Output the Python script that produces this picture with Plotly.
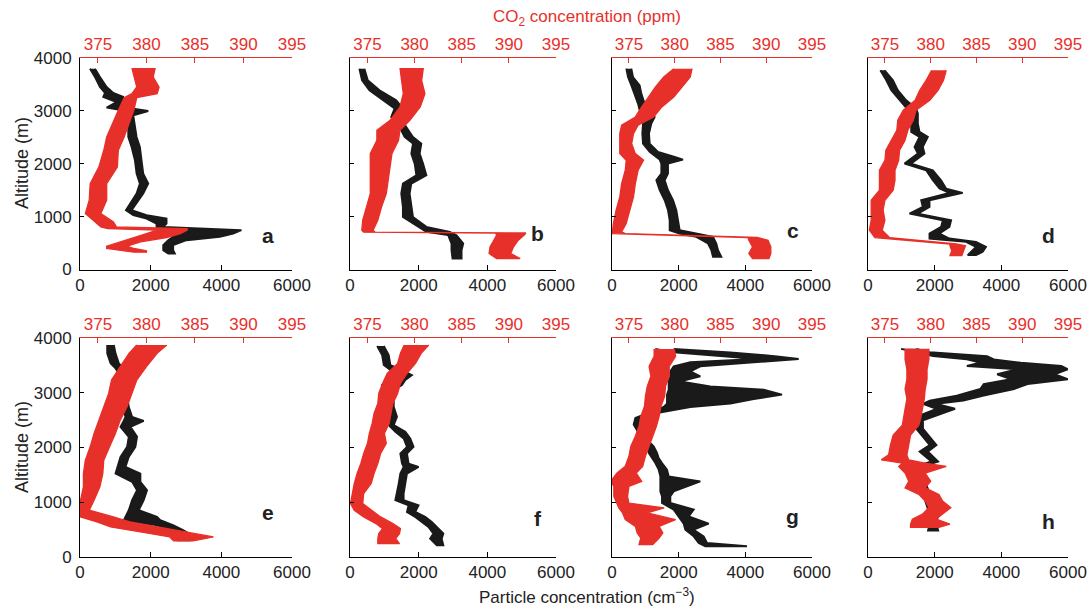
import plotly.graph_objects as go

W, H = 1091, 608
RED = "#E8302A"
BLACK = "#1a1a1a"
FONT = "Liberation Sans, Arial, Helvetica, sans-serif"

# ---------------- data ----------------
# particle concentration (cm^-3): altitude (m), left edge, right edge of the trace
a_part_alt = [3798, 3641, 3452, 3339, 3263, 3168, 3061, 2998, 2917, 2696, 2507, 2318, 2066, 1814, 1625, 1436, 1247, 1121, 1027, 964, 869, 806, 743, 680, 617, 554, 460, 365, 302]
a_part_lo = [283, 424, 565, 706, 659, 1036, 754, 1319, 1366, 1366, 1366, 1460, 1554, 1601, 1695, 1601, 1413, 1300, 1507, 1884, 2166, 2166, 2355, 2637, 2637, 2496, 2355, 2355, 2496]
a_part_hi = [424, 565, 754, 942, 1224, 1224, 1319, 1931, 1507, 1554, 1601, 1695, 1742, 1790, 1931, 1790, 1601, 1460, 1884, 2449, 2449, 2355, 4568, 4333, 3956, 3014, 2637, 2637, 2684]
# CO2 (ppm): altitude, left edge, right edge
a_co2_alt = [3810, 3641, 3452, 3326, 3250, 3011, 2759, 2507, 2255, 1940, 1625, 1310, 1058, 900, 806, 775, 743, 680, 605, 523, 441, 397, 353, 328]
a_co2_lo = [378.5, 378.7, 379.0, 378.5, 377.7, 377.1, 376.5, 375.9, 375.6, 375.1, 374.2, 374.1, 373.7, 374.7, 375.3, 376.0, 381.1, 380.0, 378.7, 377.3, 375.9, 375.9, 378.0, 378.7]
a_co2_hi = [380.9, 380.7, 381.3, 381.1, 379.0, 378.7, 378.2, 377.7, 377.1, 377.0, 375.9, 375.9, 375.3, 376.6, 376.9, 384.2, 384.2, 383.5, 382.1, 379.4, 378.0, 378.7, 380.0, 380.0]

b_part_alt = [3798, 3578, 3389, 3200, 3043, 2885, 2696, 2507, 2381, 2192, 2003, 1783, 1625, 1436, 1184, 995, 806, 712, 649, 491, 365, 208]
b_part_lo = [273, 351, 566, 956, 1298, 1200, 1444, 1590, 1834, 1785, 1883, 1932, 1541, 1493, 1541, 1541, 1980, 2224, 2858, 2956, 2956, 2985]
b_part_hi = [420, 517, 859, 1346, 1541, 1444, 1639, 1834, 2078, 2029, 2127, 2224, 1785, 1737, 1785, 1834, 2224, 2907, 3102, 3298, 3249, 3249]
b_co2_alt = [3811, 3578, 3326, 3074, 2822, 2633, 2444, 2192, 1940, 1688, 1436, 1184, 932, 743, 705, 690, 649, 554, 428, 302, 208]
b_co2_lo = [378.45, 378.6, 378.8, 378.45, 377.4, 376.0, 376.0, 375.3, 375.3, 375.3, 375.3, 374.9, 374.5, 374.4, 374.6, 388.6, 388.7, 388.4, 388.0, 387.9, 388.7]
b_co2_hi = [380.93, 380.75, 381.1, 380.6, 379.5, 378.45, 378.3, 377.6, 377.4, 377.2, 377.0, 376.5, 376.1, 375.6, 375.8, 391.8, 391.6, 391.0, 390.5, 390.2, 391.2]

c_part_alt = [3798, 3641, 3483, 3326, 3137, 3011, 2885, 2759, 2570, 2381, 2224, 2129, 2079, 2003, 1814, 1688, 1499, 1310, 1121, 932, 743, 680, 617, 491, 365, 239]
c_part_lo = [430, 480, 580, 680, 780, 830, 1030, 930, 910, 930, 1130, 1330, 1430, 1480, 1480, 1330, 1430, 1580, 1680, 1730, 1730, 2030, 2530, 2880, 2980, 3030]
c_part_hi = [580, 630, 830, 880, 980, 980, 1280, 1180, 1110, 1130, 1380, 1880, 2130, 1680, 1680, 1580, 1680, 1830, 1930, 1980, 2030, 2530, 3030, 3130, 3180, 3280]
c_co2_alt = [3798, 3641, 3452, 3263, 3074, 2885, 2728, 2570, 2381, 2192, 2066, 1877, 1625, 1373, 1121, 869, 712, 680, 605, 554, 428, 302, 208]
c_co2_lo = [379.9, 378.8, 377.9, 377.1, 376.4, 375.7, 374.2, 374.0, 374.0, 374.0, 374.7, 374.6, 374.2, 374.0, 373.6, 373.3, 373.2, 373.2, 388.0, 388.1, 388.5, 388.1, 388.5]
c_co2_hi = [381.9, 381.7, 380.8, 379.9, 378.6, 377.7, 376.0, 375.5, 375.3, 375.7, 376.6, 376.0, 375.7, 375.5, 375.1, 374.7, 374.2, 374.6, 389.0, 390.2, 390.5, 390.5, 390.3]

d_part_alt = [3767, 3578, 3389, 3200, 3043, 2948, 2759, 2602, 2507, 2318, 2192, 2003, 1877, 1688, 1531, 1449, 1310, 1184, 1058, 932, 806, 680, 586, 523, 428, 334, 271]
d_part_lo = [369, 548, 698, 947, 1147, 1296, 1296, 1296, 1545, 1396, 1496, 1097, 1745, 1944, 2143, 2442, 1595, 1645, 1246, 2243, 2193, 1845, 1845, 2941, 3240, 3091, 2991]
d_part_hi = [499, 748, 897, 1147, 1446, 1496, 1496, 1545, 1795, 1645, 1695, 1296, 1944, 2193, 2343, 2841, 1845, 1845, 1496, 2493, 2443, 2144, 2443, 3240, 3539, 3440, 3240]
d_co2_alt = [3767, 3578, 3389, 3200, 3011, 2822, 2633, 2444, 2255, 2066, 1877, 1688, 1499, 1310, 1121, 932, 743, 604, 482, 450, 355, 261]
d_co2_lo = [380.1, 379.5, 378.8, 378.3, 377.0, 376.4, 376.3, 375.7, 375.1, 375.0, 374.4, 374.4, 374.4, 373.5, 373.5, 373.5, 373.3, 373.9, 382.1, 382.1, 382.3, 382.1]
d_co2_hi = [381.7, 381.4, 380.8, 379.9, 378.4, 378.1, 377.5, 377.2, 376.6, 376.5, 376.1, 376.1, 375.9, 375.0, 374.8, 375.0, 374.7, 375.5, 382.8, 383.8, 383.6, 383.4]

e_part_alt = [3872, 3720, 3537, 3445, 3354, 3110, 2744, 2561, 2488, 2378, 2195, 2012, 1829, 1646, 1524, 1372, 1220, 1037, 854, 732, 671, 579, 488, 396, 305]
e_part_lo = [770, 770, 864, 1005, 1099, 1000, 1192, 1286, 1239, 1146, 1380, 1333, 1146, 1052, 1005, 1474, 1615, 1474, 1380, 1286, 1239, 2178, 2554, 2883, 2742]
e_part_hi = [958, 1005, 1099, 1239, 1286, 1300, 1380, 1474, 1803, 1427, 1615, 1568, 1380, 1286, 1709, 1709, 1897, 1803, 1662, 2178, 2272, 2648, 2930, 3164, 3117]
e_co2_alt = [3872, 3720, 3476, 3232, 2988, 2744, 2500, 2256, 2012, 1768, 1524, 1280, 1037, 854, 732, 640, 549, 457, 366, 293]
e_co2_lo = [379.0, 378.2, 377.3, 376.4, 376.1, 375.6, 375.1, 374.6, 374.2, 373.7, 373.5, 373.5, 373.2, 373.2, 373.2, 374.9, 376.3, 379.4, 382.4, 382.8]
e_co2_hi = [382.1, 381.1, 380.0, 379.0, 378.5, 378.0, 377.3, 376.8, 376.2, 375.6, 375.5, 375.2, 374.6, 374.1, 376.6, 378.3, 381.1, 384.1, 386.9, 384.8]

f_part_alt = [3854, 3689, 3506, 3415, 3323, 3232, 3140, 3049, 2866, 2744, 2561, 2409, 2287, 2165, 2012, 1890, 1707, 1646, 1524, 1341, 1159, 1037, 945, 823, 732, 640, 549, 427, 335, 213]
f_part_lo = [791, 935, 984, 1176, 1321, 1128, 935, 1031, 1080, 1128, 1176, 1128, 1321, 1562, 1659, 1466, 1514, 1562, 1466, 1418, 1369, 1321, 1707, 1659, 1900, 2093, 2285, 2430, 2334, 2527]
f_part_hi = [984, 1128, 1176, 1514, 1803, 1610, 1514, 1273, 1273, 1273, 1369, 1273, 1610, 1755, 1851, 1659, 1707, 1996, 1659, 1610, 1562, 1562, 1996, 1900, 2189, 2382, 2527, 2719, 2671, 2719]
f_co2_alt = [3872, 3720, 3537, 3354, 3171, 2988, 2805, 2622, 2439, 2256, 2073, 1890, 1707, 1524, 1341, 1159, 976, 854, 732, 610, 518, 427, 335, 244]
f_co2_lo = [378.9, 378.5, 378.2, 377.1, 376.6, 376.2, 376.1, 375.7, 375.5, 375.2, 375.0, 374.6, 374.3, 373.9, 373.6, 373.4, 373.2, 373.6, 374.6, 375.9, 376.6, 376.2, 376.1, 376.1]
f_co2_hi = [381.5, 380.7, 380.1, 379.2, 378.5, 378.2, 377.7, 377.5, 377.3, 376.8, 377.0, 376.4, 376.1, 375.7, 375.4, 374.6, 374.5, 375.4, 376.4, 377.7, 378.5, 378.4, 378.0, 378.4]

g_part_alt = [3799, 3738, 3665, 3616, 3556, 3483, 3391, 3300, 3208, 3117, 3056, 2965, 2886, 2801, 2740, 2630, 2539, 2417, 2265, 2143, 2021, 1900, 1808, 1717, 1595, 1473, 1382, 1291, 1199, 1108, 986, 865, 743, 609, 499, 377, 256, 195]
g_part_lo = [1300, 1850, 3350, 4350, 2350, 1850, 1750, 1750, 1700, 1700, 1700, 1650, 1650, 1650, 1550, 1050, 700, 650, 800, 850, 1050, 1100, 1200, 1300, 1400, 1450, 1450, 1450, 1450, 1500, 1500, 1850, 2000, 2150, 2200, 2450, 2600, 2800]
g_part_hi = [1850, 3550, 4950, 5600, 4350, 2650, 2350, 2650, 2050, 2950, 4550, 5100, 4250, 3550, 2350, 1350, 950, 900, 1000, 1050, 1250, 1350, 1400, 1500, 1650, 1700, 2650, 2250, 1850, 1750, 1750, 2450, 2300, 2900, 2450, 2750, 2850, 4050]
g_co2_alt = [3799, 3665, 3483, 3300, 3117, 2935, 2752, 2569, 2387, 2204, 2021, 1839, 1656, 1534, 1382, 1291, 1108, 986, 895, 804, 682, 560, 438, 347, 225]
g_co2_lo = [377.75, 377.75, 377.2, 377.4, 377.0, 376.8, 376.7, 376.3, 376.1, 375.7, 375.2, 375.0, 374.6, 373.7, 373.0, 373.35, 373.35, 373.7, 373.9, 374.3, 374.6, 375.7, 375.9, 376.3, 376.1]
g_co2_hi = [379.95, 380.1, 379.4, 379.4, 379.0, 378.9, 378.5, 378.3, 378.0, 377.6, 377.2, 376.8, 376.5, 375.8, 376.4, 375.0, 374.85, 375.0, 378.85, 377.0, 380.1, 378.3, 378.7, 378.3, 377.6]

h_part_alt = [3802, 3741, 3669, 3609, 3549, 3489, 3429, 3338, 3248, 3158, 3068, 2947, 2857, 2797, 2707, 2586, 2496, 2346, 2226, 2045, 1925, 1744, 1654, 1504, 1323, 1143, 962, 782, 602, 481]
h_part_lo = [992, 1447, 1953, 2965, 3369, 2965, 4482, 3875, 4280, 3471, 3369, 2661, 1852, 1649, 2054, 1548, 1447, 1447, 1599, 1852, 1548, 1902, 1447, 1498, 1548, 1649, 1750, 1852, 1852, 1801]
h_part_hi = [1447, 1852, 3572, 3774, 4584, 5798, 6000, 5596, 6000, 4786, 4381, 3471, 2863, 2054, 2611, 2054, 1649, 1649, 1801, 2054, 1801, 2105, 1649, 1700, 1750, 1852, 2003, 2105, 2054, 2105]
h_co2_alt = [3802, 3609, 3429, 3248, 3068, 2887, 2707, 2526, 2406, 2226, 2045, 1865, 1774, 1714, 1654, 1534, 1383, 1263, 1143, 1023, 902, 782, 692, 602, 541]
h_co2_lo = [377.2, 377.2, 377.4, 377.4, 377.2, 377.4, 377.2, 377.0, 376.9, 375.9, 375.6, 375.4, 374.6, 376.9, 376.5, 377.2, 377.6, 377.2, 378.7, 379.4, 379.8, 379.1, 378.0, 377.8, 377.8]
h_co2_hi = [379.8, 379.8, 379.6, 379.6, 379.4, 379.3, 379.1, 378.9, 378.7, 377.8, 377.6, 377.4, 377.6, 379.4, 381.7, 379.4, 380.0, 379.4, 380.9, 381.3, 382.2, 381.3, 380.6, 382.1, 380.9]

panel_letters = ["a", "b", "c", "d", "e", "f", "g", "h"]
part_ticks = [0, 2000, 4000, 6000]
co2_ticks = [375, 380, 385, 390, 395]
alt_ticks = [0, 1000, 2000, 3000, 4000]

panels = [
    (a_part_alt, a_part_lo, a_part_hi, a_co2_alt, a_co2_lo, a_co2_hi),
    (b_part_alt, b_part_lo, b_part_hi, b_co2_alt, b_co2_lo, b_co2_hi),
    (c_part_alt, c_part_lo, c_part_hi, c_co2_alt, c_co2_lo, c_co2_hi),
    (d_part_alt, d_part_lo, d_part_hi, d_co2_alt, d_co2_lo, d_co2_hi),
    (e_part_alt, e_part_lo, e_part_hi, e_co2_alt, e_co2_lo, e_co2_hi),
    (f_part_alt, f_part_lo, f_part_hi, f_co2_alt, f_co2_lo, f_co2_hi),
    (g_part_alt, g_part_lo, g_part_hi, g_co2_alt, g_co2_lo, g_co2_hi),
    (h_part_alt, h_part_lo, h_part_hi, h_co2_alt, h_co2_lo, h_co2_hi),
]

# ---------------- layout geometry (pixels) ----------------
col_px = [(80, 292), (350, 556), (612, 812), (868, 1068)]
row_px = [(58, 269.5), (338, 557)]
letter_px = [(268, 235), (537, 233), (793, 231), (1048, 235),
             (268, 512), (538, 518), (792, 516), (1048, 521)]


def xname(n):
    return "xaxis" if n == 1 else f"xaxis{n}"


def xref(n):
    return "x" if n == 1 else f"x{n}"


def yname(n):
    return "yaxis" if n == 1 else f"yaxis{n}"


def yref(n):
    return "y" if n == 1 else f"y{n}"


fig = go.Figure()
layout = {}
annotations = []

for i, (pa, plo, phi, ca, clo, chi) in enumerate(panels):
    r, c = divmod(i, 4)
    nb, nt, ny = 2 * i + 1, 2 * i + 2, i + 1
    x0, x1 = col_px[c]
    y0, y1 = row_px[r]

    # particle trace (black) on bottom axis
    fig.add_trace(go.Scatter(
        x=list(plo) + list(phi)[::-1], y=list(pa) + list(pa)[::-1],
        mode="lines", fill="toself", fillcolor=BLACK,
        line=dict(color=BLACK, width=1.9), xaxis=xref(nb), yaxis=yref(ny),
        showlegend=False, hoverinfo="skip"))
    # CO2 trace (red) on top axis
    fig.add_trace(go.Scatter(
        x=list(clo) + list(chi)[::-1], y=list(ca) + list(ca)[::-1],
        mode="lines", fill="toself", fillcolor=RED,
        line=dict(color=RED, width=1.3), xaxis=xref(nt), yaxis=yref(ny),
        showlegend=False, hoverinfo="skip"))

    layout[xname(nb)] = dict(
        domain=[x0 / W, x1 / W], anchor=yref(ny), range=[0, 6000], automargin=False,
        tickmode="array", tickvals=part_ticks, ticktext=[str(v) for v in part_ticks],
        ticks="inside", ticklen=5, tickcolor="black", showline=True, linecolor="black",
        linewidth=1, showgrid=False, zeroline=False,
        tickfont=dict(size=17, color="#222", family=FONT))
    layout[xname(nt)] = dict(
        overlaying=xref(nb), side="top", anchor=yref(ny), range=[373.15, 395], automargin=False,
        tickmode="array", tickvals=co2_ticks, ticktext=[str(v) for v in co2_ticks],
        ticks="inside", ticklen=5, tickcolor=RED, showline=True, linecolor=RED,
        linewidth=1, showgrid=False, zeroline=False,
        tickfont=dict(size=17, color=RED, family=FONT))
    layout[yname(ny)] = dict(
        domain=[1 - y1 / H, 1 - y0 / H], anchor=xref(nb), range=[0, 4000], automargin=False,
        tickmode="array", tickvals=alt_ticks, ticktext=[str(v) for v in alt_ticks],
        showticklabels=(c == 0), ticks="inside", ticklen=4, tickcolor="black",
        showline=True, linecolor="black", linewidth=1, showgrid=False, zeroline=False,
        ticklabelstandoff=4,
        tickfont=dict(size=17, color="#222", family=FONT))

    lx, ly = letter_px[i]
    annotations.append(dict(
        text=f"<b>{panel_letters[i]}</b>", x=lx / W, y=1 - ly / H, xref="paper", yref="paper",
        showarrow=False, xanchor="center", yanchor="middle",
        font=dict(size=21, color="#222", family=FONT)))

# row titles
for yc in (163, 447):
    annotations.append(dict(
        text="Altitude (m)", x=22 / W, y=1 - yc / H, xref="paper", yref="paper",
        showarrow=False, textangle=-90, xanchor="center", yanchor="middle",
        font=dict(size=18, color="#222", family=FONT)))

annotations.append(dict(
    text="CO<sub>2</sub> concentration (ppm)", x=587 / W, y=1 - 18 / H,
    xref="paper", yref="paper", showarrow=False, xanchor="center", yanchor="middle",
    font=dict(size=17, color=RED, family=FONT)))
annotations.append(dict(
    text="Particle concentration (cm<sup>−3</sup>)", x=587 / W, y=1 - 596 / H,
    xref="paper", yref="paper", showarrow=False, xanchor="center", yanchor="middle",
    font=dict(size=17, color="#222", family=FONT)))

fig.update_layout(
    width=W, height=H, margin=dict(l=0, r=0, t=0, b=0, pad=0, autoexpand=False),
    paper_bgcolor="white", plot_bgcolor="white",
    font=dict(family=FONT), annotations=annotations, **layout)

fig.write_html("out.html")
